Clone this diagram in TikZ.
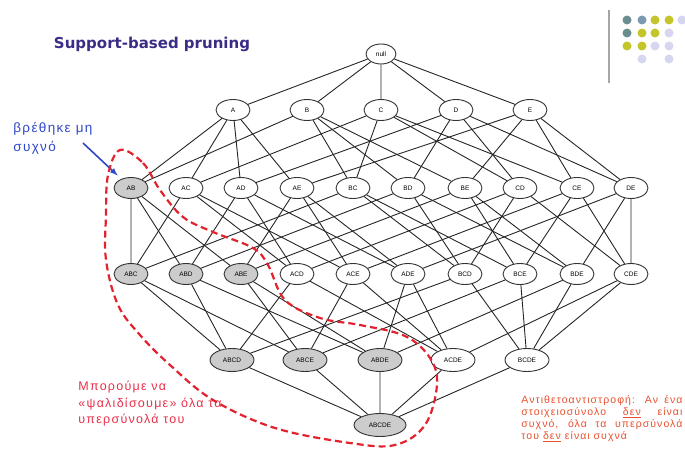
\documentclass[tikz,border=0pt]{standalone}
\usepackage{fontspec}
\setmainfont{Liberation Sans}
\newfontfamily\titlefont{DejaVu Sans}
\newfontfamily\widefont[LetterSpace=10]{Liberation Sans}
\usepackage{xcolor}
\usetikzlibrary{shapes.geometric}

\definecolor{titleblue}{HTML}{3A2D86}
\definecolor{noteblue}{HTML}{2F48C8}
\definecolor{zonered}{HTML}{E2232E}
\definecolor{notered}{HTML}{E8304A}
\definecolor{ruleorange}{HTML}{E8502E}
\definecolor{dotteal}{HTML}{6A8E8E}
\definecolor{dotblue}{HTML}{7A9AB0}
\definecolor{dotolive}{HTML}{C4C52A}
\definecolor{dotlav}{HTML}{D6D6F0}

\begin{document}
\begin{tikzpicture}[x=1pt, y=-1pt, thick]
        % Define a style for the nodes
        \tikzstyle{item} = [ellipse, draw=black!80, line width=0.9pt, fill=white, inner sep=0pt, minimum width=34pt, minimum height=21pt, font=\fontsize{6.5}{7}\selectfont]
        \tikzstyle{pruned} = [item, fill=gray!40]
        \tikzstyle{edge} = [draw=black!85, line width=0.9pt]
        \tikzstyle{arrow} = [->, >=latex, line width=1.6pt, noteblue, shorten >=5pt]
        \tikzstyle{prunezone} = [draw=zonered, line width=2.2pt, dash pattern=on 7pt off 4pt]

        \useasboundingbox (0,0) rectangle (685,460);

        % Title and notes
        \node (title) at (152,44) {\titlefont\bfseries\fontsize{15}{17}\selectfont\color{titleblue}Support-based pruning};
        \node (found) [anchor=west, align=left, inner sep=0pt, text=noteblue, font=\widefont\fontsize{13.5}{19}\selectfont] at (13,138) {βρέθηκε μη\\συχνό};
        \node (prune) [anchor=west, align=left, inner sep=0pt, text=notered, font=\widefont\fontsize{12.5}{16.5}\selectfont] at (78,404) {Μπορούμε να\\«ψαλιδίσουμε» όλα τα\\υπερσύνολά του};
        \node (rule) [anchor=west, text width=161pt, align=justify, inner sep=0pt, text=ruleorange, font=\widefont\fontsize{10.5}{12}\selectfont] at (521,419) {Αντιθετοαντιστροφή: Αν ένα\linebreak στοιχειοσύνολο \underline{δεν} είναι\linebreak συχνό, όλα τα υπερσύνολά\linebreak του \underline{δεν} είναι συχνά};

        % Nodes
        \node (empty) [item, minimum width=30pt, minimum height=20pt] at (381,54) {null};

        \node (A) [item] at (233,110) {A};
        \node (B) [item] at (307,110) {B};
        \node (C) [item] at (381,110) {C};
        \node (D) [item] at (456,110) {D};
        \node (E) [item] at (530,110) {E};

        \node (AB) [pruned] at (131,188) {AB};
        \node (AC) [item] at (186,188) {AC};
        \node (AD) [item] at (241,188) {AD};
        \node (AE) [item] at (297,188) {AE};
        \node (BC) [item] at (353,188) {BC};
        \node (BD) [item] at (408,188) {BD};
        \node (BE) [item] at (465,188) {BE};
        \node (CD) [item] at (520,188) {CD};
        \node (CE) [item] at (577,188) {CE};
        \node (DE) [item] at (631,188) {DE};

        \node (ABC) [pruned] at (131,274) {ABC};
        \node (ABD) [pruned] at (186,274) {ABD};
        \node (ABE) [pruned] at (241,274) {ABE};
        \node (ACD) [item] at (297,274) {ACD};
        \node (ACE) [item] at (353,274) {ACE};
        \node (ADE) [item] at (408,274) {ADE};
        \node (BCD) [item] at (465,274) {BCD};
        \node (BCE) [item] at (520,274) {BCE};
        \node (BDE) [item] at (577,274) {BDE};
        \node (CDE) [item] at (631,274) {CDE};

        \node (ABCD) [pruned, minimum width=44pt, minimum height=23pt] at (232,360) {ABCD};
        \node (ABCE) [pruned, minimum width=44pt, minimum height=23pt] at (305,360) {ABCE};
        \node (ABDE) [pruned, minimum width=44pt, minimum height=23pt] at (380,360) {ABDE};
        \node (ACDE) [item, minimum width=44pt, minimum height=23pt] at (453,360) {ACDE};
        \node (BCDE) [item, minimum width=44pt, minimum height=23pt] at (527,360) {BCDE};

        \node (ABCDE) [pruned, minimum width=52pt, minimum height=23pt] at (380,425) {ABCDE};

        % Edges
        \draw [edge] (empty) -- (A) (empty) -- (B) (empty) -- (C) (empty) -- (D) (empty) -- (E);

        \draw [edge] (AB) -- (A) (AB) -- (B);
        \draw [edge] (AC) -- (A) (AC) -- (C);
        \draw [edge] (AD) -- (A) (AD) -- (D);
        \draw [edge] (AE) -- (A) (AE) -- (E);
        \draw [edge] (BC) -- (B) (BC) -- (C);
        \draw [edge] (BD) -- (B) (BD) -- (D);
        \draw [edge] (BE) -- (B) (BE) -- (E);
        \draw [edge] (CD) -- (C) (CD) -- (D);
        \draw [edge] (CE) -- (C) (CE) -- (E);
        \draw [edge] (DE) -- (D) (DE) -- (E);

        \draw [edge] (ABC) -- (AB) (ABC) -- (AC) (ABC) -- (BC);
        \draw [edge] (ABD) -- (AB) (ABD) -- (AD) (ABD) -- (BD);
        \draw [edge] (ABE) -- (AB) (ABE) -- (AE) (ABE) -- (BE);
        \draw [edge] (ACD) -- (AC) (ACD) -- (AD) (ACD) -- (CD);
        \draw [edge] (ACE) -- (AC) (ACE) -- (AE) (ACE) -- (CE);
        \draw [edge] (ADE) -- (AD) (ADE) -- (AE) (ADE) -- (DE);
        \draw [edge] (BCD) -- (BC) (BCD) -- (BD) (BCD) -- (CD);
        \draw [edge] (BCE) -- (BC) (BCE) -- (BE) (BCE) -- (CE);
        \draw [edge] (BDE) -- (BD) (BDE) -- (BE) (BDE) -- (DE);
        \draw [edge] (CDE) -- (CD) (CDE) -- (CE) (CDE) -- (DE);

        \draw [edge] (ABCD) -- (ABC) (ABCD) -- (ABD) (ABCD) -- (ACD) (ABCD) -- (BCD);
        \draw [edge] (ABCE) -- (ABC) (ABCE) -- (ABE) (ABCE) -- (ACE) (ABCE) -- (BCE);
        \draw [edge] (ABDE) -- (ABD) (ABDE) -- (ABE) (ABDE) -- (ADE) (ABDE) -- (BDE);
        \draw [edge] (ACDE) -- (ACD) (ACDE) -- (ACE) (ACDE) -- (ADE) (ACDE) -- (CDE);
        \draw [edge] (BCDE) -- (BCD) (BCDE) -- (BCE) (BCDE) -- (BDE) (BCDE) -- (CDE);

        \draw [edge] (ABCDE) -- (ABCD) (ABCDE) -- (ABCE) (ABCDE) -- (ABDE) (ABCDE) -- (ACDE) (ABCDE) -- (BCDE);

        % Pointer to the infrequent itemset
        \coordinate (pointer) at (83,143);
        \draw [arrow] (pointer) -- (AB);

        % Pruned region
        \draw [prunezone] plot [smooth cycle, tension=0.6] coordinates {(120,150) (143,163) (160,190) (183,217) (213,232) (253,248) (268,265) (285,300) (320,318) (360,325) (405,336) (430,358) (437,385) (425,425) (395,445) (350,443) (275,428) (213,400) (170,365) (140,335) (118,305) (106,260) (106,215) (108,175)};

        % Logo
        \draw [gray!70, line width=2pt] (609,10) -- (609,83);
        \fill [dotteal] (627,20) circle (4.5pt);
        \fill [dotblue] (642,20) circle (4.5pt);
        \fill [dotolive] (655,20) circle (4.5pt);
        \fill [dotolive] (669,20) circle (4.5pt);
        \fill [dotlav] (682,20) circle (4.5pt);
        \fill [dotteal] (627,33) circle (4.5pt);
        \fill [dotolive] (642,33) circle (4.5pt);
        \fill [dotolive] (655,33) circle (4.5pt);
        \fill [dotlav] (669,33) circle (4.5pt);
        \fill [dotolive] (627,46) circle (4.5pt);
        \fill [dotolive] (642,46) circle (4.5pt);
        \fill [dotlav] (655,46) circle (4.5pt);
        \fill [dotlav] (669,46) circle (4.5pt);
        \fill [dotlav] (642,59) circle (4.5pt);
        \fill [dotlav] (669,59) circle (4.5pt);
    \end{tikzpicture}
\end{document}
